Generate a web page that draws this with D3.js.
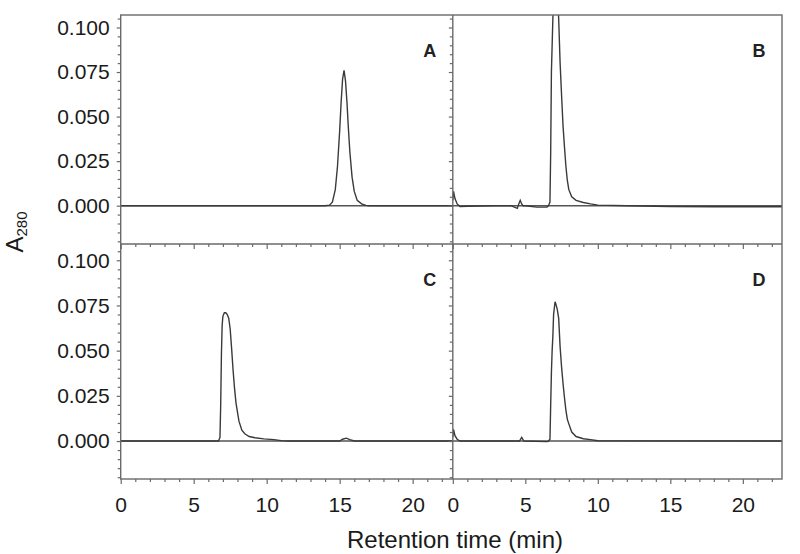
<!DOCTYPE html>
<html>
<head>
<meta charset="utf-8">
<script src="https://cdn.jsdelivr.net/npm/d3@7"></script>
<style>
  body { margin: 0; background: #fff; }
  svg { font-family: "Liberation Sans", Arial, sans-serif; }
</style>
</head>
<body>
<svg id="chart" width="800" height="554"></svg>
<script>
// Chromatogram traces (time in min, absorbance at 280 nm)
var timesA = [0, 14.0, 14.3, 14.5, 14.7, 14.85, 15.0, 15.1, 15.2, 15.3, 15.4, 15.5, 15.6, 15.7, 15.85, 16.0, 16.2, 16.5, 16.8, 17.0, 22.75];
var absA   = [0, 0, 0.0003, 0.002, 0.009, 0.022, 0.042, 0.058, 0.071, 0.076, 0.070, 0.058, 0.043, 0.030, 0.016, 0.008, 0.003, 0.001, 0.0002, 0, 0];

var timesB = [0, 0.05, 0.15, 0.3, 0.5, 1.0, 2.0, 3.0, 4.0, 4.45, 4.55, 4.65, 4.75, 4.85, 5.0, 5.8, 6.5, 6.6, 6.7, 6.75, 6.8, 6.9, 7.0, 7.1, 7.2, 7.3, 7.4, 7.5, 7.6, 7.7, 7.8, 7.9, 8.0, 8.2, 8.5, 9.0, 9.5, 10.0, 12, 14, 15, 18, 22.7];
var absB   = [0.003, 0.008, 0.004, 0.001, -0.0005, -0.0003, -0.0002, 0, 0, -0.0015, 0.001, 0.003, 0.001, 0, 0, -0.0008, -0.0008, 0, 0.002, 0.03, 0.075, 0.105, 0.125, 0.13, 0.125, 0.105, 0.08, 0.062, 0.045, 0.033, 0.022, 0.014, 0.009, 0.005, 0.003, 0.0018, 0.001, 0.0003, 0, -0.0003, -0.0005, -0.0006, -0.0006];

var timesC = [0, 6.7, 6.8, 6.85, 6.9, 6.95, 7.0, 7.1, 7.2, 7.3, 7.4, 7.5, 7.6, 7.7, 7.8, 7.9, 8.0, 8.1, 8.3, 8.5, 8.8, 9.2, 9.8, 10.5, 11, 11.5, 15.0, 15.2, 15.45, 15.7, 16.0, 22.75];
var absC   = [0, 0, 0.002, 0.02, 0.048, 0.064, 0.069, 0.071, 0.071, 0.070, 0.068, 0.062, 0.051, 0.039, 0.029, 0.021, 0.016, 0.011, 0.006, 0.004, 0.0025, 0.0018, 0.0012, 0.0008, 0.0002, 0, 0, 0.001, 0.0016, 0.0008, 0, 0];

var timesD = [0, 0.05, 0.15, 0.3, 0.5, 2, 4.0, 4.6, 4.75, 4.9, 6.5, 6.6, 6.7, 6.75, 6.8, 6.85, 6.9, 6.95, 7.05, 7.1, 7.2, 7.3, 7.4, 7.5, 7.6, 7.7, 7.8, 7.9, 8.0, 8.2, 8.5, 9.0, 9.5, 10.0, 22.7];
var absD   = [0.002, 0.0065, 0.003, 0.001, 0, 0, 0, 0, 0.002, 0, -0.0003, 0, 0.001, 0.02, 0.038, 0.05, 0.058, 0.07, 0.077, 0.076, 0.073, 0.068, 0.052, 0.041, 0.032, 0.024, 0.017, 0.012, 0.0095, 0.005, 0.0025, 0.0013, 0.0008, 0.0002, 0];

var yTickValues = [0, 0.025, 0.05, 0.075, 0.1];
var xTickValues = [0, 5, 10, 15, 20];
var panelLabels = ["A", "B", "C", "D"];

var svg = d3.select("#chart");

// shared scales: two columns, two rows
var xLeft = d3.scaleLinear().domain([0, 22.75]).range([120.7, 452.8]);
var xRight = d3.scaleLinear().domain([0, 22.7]).range([452.8, 782]);
var yTop = d3.scaleLinear().domain([-0.0215, 0.107]).range([244, 15]);
var yBot = d3.scaleLinear().domain([-0.021, 0.109]).range([479, 244]);

var panels = [
    { label: panelLabels[0], x: xLeft, y: yTop, t: timesA, v: absA, left: true, bottom: false },
    { label: panelLabels[1], x: xRight, y: yTop, t: timesB, v: absB, left: false, bottom: false },
    { label: panelLabels[2], x: xLeft, y: yBot, t: timesC, v: absC, left: true, bottom: true },
    { label: panelLabels[3], x: xRight, y: yBot, t: timesD, v: absD, left: false, bottom: true }
];

var frameColor = "#6a6a6a";

panels.forEach(function (p, i) {
    var x0 = p.x.range()[0], x1 = p.x.range()[1];
    var y0 = p.y.range()[1], y1 = p.y.range()[0];
    var g = svg.append("g");

    g.append("clipPath").attr("id", "clip" + i)
        .append("rect")
        .attr("x", x0).attr("y", y0)
        .attr("width", x1 - x0).attr("height", y1 - y0);

    // minor + major ticks on the x axis
    var minor = d3.range(0, Math.floor(p.x.domain()[1]) + 1).filter(function (d) { return d % 5 !== 0; });
    g.append("g").attr("transform", "translate(0," + y1 + ")")
        .call(d3.axisBottom(p.x).tickValues(minor).tickSize(3).tickFormat(""))
        .call(function (a) { a.select(".domain").remove(); });
    var xa = g.append("g").attr("transform", "translate(0," + y1 + ")")
        .call(d3.axisBottom(p.x).tickValues(xTickValues).tickSize(5).tickPadding(13)
            .tickFormat(p.bottom ? d3.format("d") : ""));
    xa.select(".domain").remove();

    // minor + major ticks on the y axis
    var yMinor = d3.range(-0.02, 0.1051, 0.005).filter(function (d) {
        return Math.abs(d / 0.025 - Math.round(d / 0.025)) > 0.01 && d >= p.y.domain()[0] && d <= p.y.domain()[1];
    });
    g.append("g").attr("transform", "translate(" + x0 + ",0)")
        .call(d3.axisLeft(p.y).tickValues(yMinor).tickSize(3).tickFormat(""))
        .call(function (a) { a.select(".domain").remove(); });
    var ya = g.append("g").attr("transform", "translate(" + x0 + ",0)")
        .call(d3.axisLeft(p.y).tickValues(yTickValues).tickSize(4).tickPadding(7)
            .tickFormat(p.left ? d3.format(".3f") : ""));
    ya.select(".domain").remove();

    g.selectAll(".tick line").attr("stroke", frameColor).attr("stroke-width", 1.2);
    g.selectAll(".tick text").attr("font-size", 21).attr("fill", "#1a1a1a")
        .attr("font-family", "'Liberation Sans', Arial, sans-serif");

    // zero baseline
    g.append("line")
        .attr("x1", x0).attr("x2", x1)
        .attr("y1", p.y(0)).attr("y2", p.y(0))
        .attr("stroke", "#555").attr("stroke-width", 1.4);

    // trace
    var pts = p.t.map(function (d, k) { return [d, p.v[k]]; });
    g.append("path")
        .datum(pts)
        .attr("clip-path", "url(#clip" + i + ")")
        .attr("fill", "none")
        .attr("stroke", "#3a3a3a")
        .attr("stroke-width", 1.4)
        .attr("d", d3.line()
            .x(function (d) { return p.x(d[0]); })
            .y(function (d) { return p.y(d[1]); }));

    // panel letter
    g.append("text")
        .attr("x", x1 - 23).attr("y", y0 + 42)
        .attr("text-anchor", "middle")
        .attr("font-size", 18).attr("font-weight", "bold")
        .attr("fill", "#222")
        .text(p.label);
});

// frame and dividers
svg.append("rect")
    .attr("x", 120.7).attr("y", 15)
    .attr("width", 782 - 120.7).attr("height", 479 - 15)
    .attr("fill", "none").attr("stroke", frameColor).attr("stroke-width", 1.4);
svg.append("line").attr("x1", 452.8).attr("x2", 452.8).attr("y1", 15).attr("y2", 479)
    .attr("stroke", frameColor).attr("stroke-width", 1.4);
svg.append("line").attr("x1", 120.7).attr("x2", 782).attr("y1", 244).attr("y2", 244)
    .attr("stroke", frameColor).attr("stroke-width", 1.4);

// axis titles
svg.append("text")
    .attr("x", 455).attr("y", 548)
    .attr("text-anchor", "middle")
    .attr("font-size", 24).attr("fill", "#1a1a1a")
    .text("Retention time (min)");

var yt = svg.append("text")
    .attr("transform", "translate(23,232) rotate(-90)")
    .attr("text-anchor", "middle")
    .attr("fill", "#1a1a1a");
yt.append("tspan").attr("font-size", 24).text("A");
yt.append("tspan").attr("font-size", 15).attr("dy", 4).text("280");
</script>
</body>
</html>
